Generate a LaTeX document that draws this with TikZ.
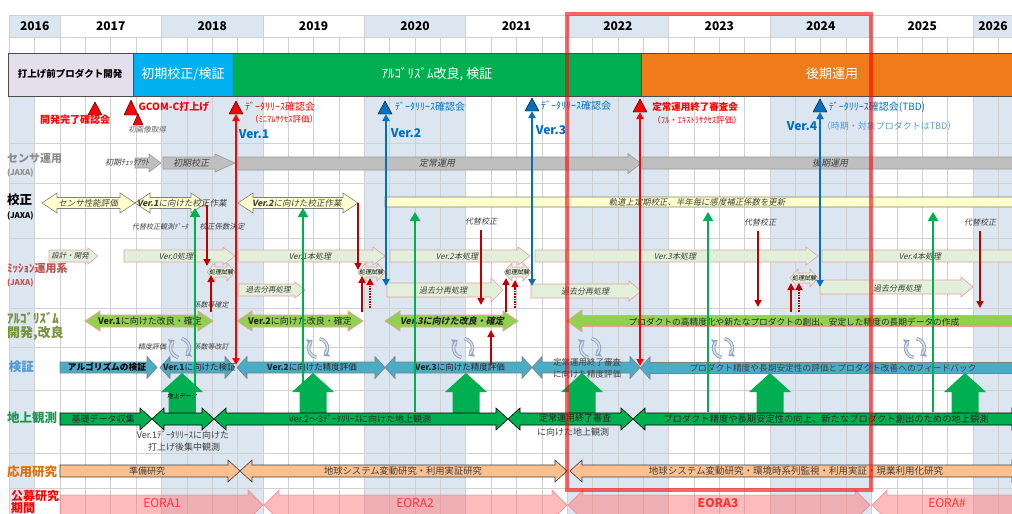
\documentclass[tikz,border=0pt]{standalone}
\usepackage{fontspec}
\setmainfont{Noto Sans CJK JP}
\newfontfamily\jpit[FakeSlant=0.2]{Noto Sans CJK JP}
\usetikzlibrary{arrows.meta}
\definecolor{shd}{HTML}{DCE6F1}
\definecolor{grd}{HTML}{D0D0D0}
\definecolor{lav}{HTML}{E4DFEC}
\definecolor{cph}{HTML}{00B0F0}
\definecolor{gph}{HTML}{00B050}
\definecolor{oph}{HTML}{F07B1B}
\definecolor{blu}{HTML}{0070C0}
\definecolor{lblu}{HTML}{5B9BD5}
\definecolor{dred}{HTML}{C00000}
\definecolor{gfill}{HTML}{BFBFBF}
\definecolor{gbord}{HTML}{9A9A9A}
\definecolor{yfill}{HTML}{FFFFCC}
\definecolor{mfill}{HTML}{E2EFDA}
\definecolor{mbord}{HTML}{E6A0A0}
\definecolor{afill}{HTML}{92D050}
\definecolor{vfill}{HTML}{4BACC6}
\definecolor{ofill}{HTML}{FAC090}
\definecolor{efill}{HTML}{FF7878}
\definecolor{etext}{HTML}{FF3333}
\definecolor{cyc}{HTML}{8FA4C0}
\definecolor{cycl}{HTML}{DCE4EE}
\definecolor{itx}{HTML}{404040}
\definecolor{labgray}{HTML}{8C8C8C}
\definecolor{labmis}{HTML}{C0504D}
\definecolor{labalg}{HTML}{77933C}
\definecolor{labver}{HTML}{4F97D0}
\definecolor{labgnd}{HTML}{1E9650}
\definecolor{labapp}{HTML}{E46C0A}
\newcommand\setfs[1]{\fontsize{#1}{#1}\selectfont}
% right arrow: style, x1, x2, y, h, H, L
\newcommand\myRA[7]{\path[#1] (#2,{#4-#5}) -- ({#3-#7},{#4-#5}) -- ({#3-#7},{#4-#6}) -- (#3,#4) -- ({#3-#7},{#4+#6}) -- ({#3-#7},{#4+#5}) -- (#2,{#4+#5}) -- cycle;}
% double arrow
\newcommand\myDA[7]{\path[#1] (#2,#4) -- ({#2+#7},{#4-#6}) -- ({#2+#7},{#4-#5}) -- ({#3-#7},{#4-#5}) -- ({#3-#7},{#4-#6}) -- (#3,#4) -- ({#3-#7},{#4+#6}) -- ({#3-#7},{#4+#5}) -- ({#2+#7},{#4+#5}) -- ({#2+#7},{#4+#6}) -- cycle;}
% left arrow
\newcommand\myLA[7]{\path[#1] (#2,#4) -- ({#2+#7},{#4-#6}) -- ({#2+#7},{#4-#5}) -- (#3,{#4-#5}) -- (#3,{#4+#5}) -- ({#2+#7},{#4+#5}) -- ({#2+#7},{#4+#6}) -- cycle;}
% up block arrow: x, tip y, base y
\newcommand\myUA[3]{\path[fill=gph] (#1,#2) -- ({#1+21},{#2+19}) -- ({#1+13.5},{#2+19}) -- ({#1+13.5},#3) -- ({#1-13.5},#3) -- ({#1-13.5},{#2+19}) -- ({#1-21},{#2+19}) -- cycle;}
\newcommand\mycyc[2]{%
  \draw[cycst] (#1,#2) ++(100:9.5) arc[start angle=100,end angle=235,radius=9.5];
  \draw[cycst] (#1,#2) ++(280:9.5) arc[start angle=280,end angle=415,radius=9.5];
  \draw[cycl,line width=1.4pt] (#1,#2) ++(102:9.5) arc[start angle=102,end angle=222,radius=9.5];
  \draw[cycl,line width=1.4pt] (#1,#2) ++(282:9.5) arc[start angle=282,end angle=402,radius=9.5];}
\begin{document}
\begin{tikzpicture}[x=1pt,y=-1pt,every node/.style={inner sep=0pt,outer sep=0pt},
  gar/.style={fill=gfill,draw=gbord,line width=0.6pt},
  yar/.style={fill=yfill,draw=black!50,line width=0.6pt},
  mar/.style={fill=mfill,draw=mbord,line width=0.6pt},
  aar/.style={fill=afill,draw=mbord,line width=0.7pt},
  var/.style={fill=vfill,draw=black!50,line width=0.6pt},
  gnd/.style={fill=gph,draw=black,line width=0.6pt},
  oar/.style={fill=ofill,draw=black!75,line width=0.6pt},
  ear/.style={fill=efill,fill opacity=0.5,draw=red!60,draw opacity=0.5,line width=0.8pt},
  it/.style={font={\jpit\setfs{8}},text=itx},
  sm/.style={font={\jpit\setfs{6}},text=black},
  lab/.style={anchor=west,font={\bfseries\setfs{12.5}}},
  sub/.style={anchor=west,font={\bfseries\setfs{8}}},
  yr/.style={font={\bfseries\setfs{12}}},
  qt/.style={font={\setfs{6.5}},text=black!80},
  tri/.style={draw=black,line width=0.4pt},
  vline/.style={line width=1.8pt,{Triangle[length=7pt,width=7pt]}-{Triangle[length=7pt,width=7pt]}},
  rdar/.style={dred,line width=1.6pt,-{Triangle[length=7pt,width=7pt]}},
  rdot/.style={dred,line width=1.6pt,densely dotted,-{Triangle[length=7pt,width=7pt]}},
  gline/.style={gph,line width=1.8pt,-{Triangle[length=9pt,width=10pt]}},
  cycst/.style={cyc,line width=3.4pt,-{Triangle[length=5pt,width=9pt]}}]
\useasboundingbox (0,0) rectangle (1012,514);
\clip (0,0) rectangle (1012,514);
\fill[white] (0,0) rectangle (1012,514);
% ---------- body shading ----------
\fill[shd] (9.3,96) rectangle (34.66,514);
\foreach \a/\b in {161.44/262.87,364.30/465.73,567.15/668.58,770.01/871.44,972.87/1023.58}
  \fill[shd] (\a,96) rectangle (\b,514);
% ---------- header ----------
\fill[shd] (9.3,15) rectangle (60.01,37);
\foreach \a/\b in {161.44/262.87,364.30/465.73,567.15/668.58,770.01/871.44,972.87/1023.58}
  \fill[shd] (\a,15) rectangle (\b,37);
\foreach \yy in {15,37,53} \draw[grd,line width=0.6pt] (9.3,\yy) -- (1012,\yy);
\foreach \a in {9.3,60.01,161.44,262.87,364.30,465.73,567.15,668.58,770.01,871.44,972.87}
  \draw[grd,line width=0.6pt] (\a,15) -- (\a,37);
\foreach \i in {0,...,40} \draw[grd,line width=0.6pt] ({9.3+25.357*\i},37) -- ++(0,16);
\node[yr] (y2016) at (34.7,26) {2016};
\node[yr] (y2017) at (110.7,26) {2017};
\node[yr] (y2018) at (212.2,26) {2018};
\node[yr] (y2019) at (313.6,26) {2019};
\node[yr] (y2020) at (415.0,26) {2020};
\node[yr] (y2021) at (516.4,26) {2021};
\node[yr] (y2022) at (617.9,26) {2022};
\node[yr] (y2023) at (719.3,26) {2023};
\node[yr] (y2024) at (820.7,26) {2024};
\node[yr] (y2025) at (922.2,26) {2025};
\node[yr] (y2026) at (993,26) {2026};
\foreach \i in {0,...,39}{\pgfmathtruncatemacro\m{mod(\i,4)}
  \node[qt] (q\i) at ({9.3+25.357*(\i+0.5)},45) {\ifcase\m 10-12\or 1-3\or 4-6\or 7-9\fi};}
% ---------- body grid ----------
\foreach \i in {0,...,40} \draw[grd,line width=0.5pt] ({9.3+25.357*\i},96) -- ({9.3+25.357*\i},514);
\foreach \yy in {143,183,238,308,347,390,453,488} \draw[grd,line width=0.5pt] (9.3,\yy) -- (1012,\yy);
% ---------- phase bar ----------
\path[draw=black!70,fill=lav] (8,53) rectangle (133,96);
\path[draw=black!70,fill=cph] (133,53) rectangle (233,96);
\path[draw=black!70,fill=gph] (233,53) rectangle (641,96);
\path[draw=black!70,fill=oph] (641,53) rectangle (1015,96);
\node[font={\bfseries\setfs{9.5}}] (ph1) at (70,74) {打上げ前プロダクト開発};
\node[font={\setfs{13}},text=white] (ph2) at (183,74) {初期校正/検証};
\node[font={\setfs{13}},text=white] (ph3) at (437,74) {ｱﾙｺﾞﾘｽﾞﾑ改良, 検証};
\node[font={\setfs{13}},text=white] (ph4) at (832,74) {後期運用};
% ---------- row labels ----------
\node[lab,text=labgray,font={\bfseries\setfs{11}}] (l1) at (7,158) {センサ運用};
\node[sub,text=labgray] (l1b) at (7,173) {(JAXA)};
\node[lab,text=black] (l2) at (7,200) {校正};
\node[sub,text=black] (l2b) at (7,216) {(JAXA)};
\node[lab,text=labmis,font={\bfseries\setfs{11}}] (l3) at (7,268) {ﾐｯｼｮﾝ運用系};
\node[sub,text=labmis] (l3b) at (7,283) {(JAXA)};
\node[lab,text=labalg,font={\bfseries\setfs{13}}] (l4) at (7,318) {ｱﾙｺﾞﾘｽﾞﾑ};
\node[lab,text=labalg,font={\bfseries\setfs{13}}] (l4b) at (7,333) {開発,改良};
\node[lab,text=labver] (l5) at (9,367) {検証};
\node[lab,text=labgnd] (l6) at (7,418) {地上観測};
\node[lab,text=labapp] (l7) at (7,472) {応用研究};
\node[lab,text=red,font={\bfseries\setfs{12}}] (l8) at (11,495.5) {公募研究};
\node[lab,text=red,font={\bfseries\setfs{12}}] (l8b) at (11,508.5) {期間};
% ---------- milestones ----------
\path[tri,fill=red] (88,115) -- (102,115) -- (95,102) -- cycle;
\node[font={\bfseries\setfs{10}},text=red] (ms1) at (75,120) {開発完了確認会};
\path[tri,fill=red] (124,115) -- (138,115) -- (131,100) -- cycle;
\path[tri,fill=red] (133,125) -- (143,125) -- (138,114) -- cycle;
\node[font={\bfseries\setfs{10}},text=red] (ms2) at (174,107) {GCOM-C打上げ};
\node[it,font={\jpit\setfs{7.5}},text=black!60] (ms2b) at (147,130) {初画像取得};
\path[tri,fill=red] (229,114) -- (243,114) -- (236,101) -- cycle;
\node[font={\setfs{10}},text=red] (ms3) at (280,107) {ﾃﾞｰﾀﾘﾘｰｽ確認会};
\node[font={\setfs{8.5}},text=red] (ms3b) at (284,119) {（ﾐﾆﾏﾑｻｸｾｽ評価）};
\node[font={\bfseries\setfs{12}},text=blu] (v1) at (254,134) {Ver.1};
\path[tri,fill=blu] (378,114) -- (392,114) -- (385,101) -- cycle;
\node[font={\setfs{10}},text=blu] (ms4) at (430,107) {ﾃﾞｰﾀﾘﾘｰｽ確認会};
\node[font={\bfseries\setfs{12}},text=blu] (v2) at (406,133) {Ver.2};
\path[tri,fill=blu] (525,111) -- (539,111) -- (532,98) -- cycle;
\node[font={\setfs{10}},text=blu] (ms5) at (576,106) {ﾃﾞｰﾀﾘﾘｰｽ確認会};
\node[font={\bfseries\setfs{12}},text=blu] (v3) at (551,130) {Ver.3};
\path[tri,fill=red] (633,112) -- (647,112) -- (640,99) -- cycle;
\node[font={\bfseries\setfs{9.5}},text=red] (ms6) at (695,107) {定常運用終了審査会};
\node[font={\setfs{8.5}},text=red] (ms6b) at (697,120) {（ﾌﾙ・ｴｷｽﾄﾗｻｸｾｽ評価）};
\path[tri,fill=blu] (813,112) -- (827,112) -- (820,99) -- cycle;
\node[font={\setfs{10}},text=blu] (ms7) at (877,107) {ﾃﾞｰﾀﾘﾘｰｽ確認会(TBD)};
\node[font={\bfseries\setfs{12}},text=blu] (v4) at (802,126) {Ver.4};
\node[font={\setfs{9}},text=lblu] (v4b) at (889,126) {（時期・対象プロダクトはTBD）};
% ---------- sensor operation ----------
\myRA{gar}{135}{161}{163}{5}{9}{12}
\node[it] (s1) at (127,162) {初期ﾁｪｯｸｱｳﾄ};
\myRA{gar}{163}{235}{163}{6}{9}{20}
\node[it,font={\jpit\setfs{9}}] (s2) at (191,163) {初期校正};
\myRA{gar}{238}{641}{163.5}{6.5}{10}{13}
\node[it,font={\jpit\setfs{9}}] (s3) at (437,163.5) {定常運用};
\myRA{gar}{642}{1040}{163}{6}{10}{13}
\node[it,font={\jpit\setfs{9}}] (s4) at (830,163) {後期運用};
% ---------- calibration ----------
\myDA{yar}{42}{135}{203}{5.5}{10}{15}
\node[it,font={\jpit\setfs{8.5}}] (c1) at (88,203) {センサ性能評価};
\myDA{yar}{135}{206}{203}{5.5}{10}{15}
\node[it,font={\jpit\setfs{8.5}},anchor=west] (c2) at (137,203) {{\bfseries Ver.1}に向けた校正作業};
\myDA{yar}{238}{358}{203}{5.5}{10}{15}
\node[it,font={\jpit\setfs{8.5}},anchor=west] (c3) at (252,203) {{\bfseries Ver.2}に向けた校正作業};
\myRA{yar}{385}{1030}{202}{5}{9}{12}
\node[it,font={\jpit\setfs{8.4}}] (c4) at (697,202) {軌道上定期校正、半年毎に感度補正係数を更新};
\node[it,font={\jpit\setfs{7}}] (c5) at (160,227) {代替校正観測ﾃﾞｰﾀ};
\node[it,font={\jpit\setfs{7.5}}] (c6) at (222,227) {校正係数決定};
\node[it,font={\jpit\setfs{8}}] (c7) at (481,221) {代替校正};
\node[it,font={\jpit\setfs{8}}] (c8) at (760,222) {代替校正};
\node[it,font={\jpit\setfs{8}}] (c9) at (980,222) {代替校正};
% ---------- mission operation ----------
\myRA{mar}{49}{98}{256}{6}{8}{10}
\node[it,font={\jpit\setfs{7.5}}] (m1) at (70,256) {設計・開発};
\myRA{mar}{124}{235}{256}{6}{9}{12}
\node[it] (m2) at (176,256) {Ver.0処理};
\myRA{mar}{238}{385}{256}{6}{9}{12}
\node[it] (m3) at (310,256) {Ver.1本処理};
\myRA{mar}{390}{530}{256}{6}{9}{12}
\node[it] (m4) at (457,256) {Ver.2本処理};
\myRA{mar}{535}{818}{256}{6}{9}{12}
\node[it] (m5) at (675,256) {Ver.3本処理};
\myRA{mar}{822}{1040}{256}{6}{9}{12}
\node[it] (m6) at (920,256) {Ver.4本処理};
\myDA{mar}{207}{235}{272}{5}{9}{8}
\node[sm] (p1) at (221,272) {処理試験};
\myDA{mar}{358}{385}{272}{5}{9}{8}
\node[sm] (p2) at (371,272) {処理試験};
\myDA{mar}{504}{531}{272}{5}{9}{8}
\node[sm] (p3) at (517,272) {処理試験};
\myDA{mar}{790}{818}{278}{5}{9}{8}
\node[sm] (p4) at (804,278) {処理試験};
\myRA{mar}{238}{305}{290}{6}{8}{10}
\node[it,font={\jpit\setfs{7.5}}] (r1) at (268,290) {過去分再処理};
\myRA{mar}{387}{503}{290}{7}{12}{12}
\node[it] (r2) at (443,290) {過去分再処理};
\myRA{mar}{531}{641}{291}{7}{10}{12}
\node[it] (r3) at (585,291) {過去分再処理};
\myRA{mar}{820}{973}{287}{7}{10}{12}
\node[it] (r4) at (897,288) {過去分再処理};
\node[it,font={\jpit\setfs{7}}] (m7) at (211,305) {係数等確定};
% ---------- algorithm ----------
\myDA{aar}{85}{213}{321}{6}{10}{15}
\node[font={\setfs{9}},text=black!85] (a1) at (150,321) {{\bfseries Ver.1}に向けた改良・確定};
\myDA{aar}{237}{363}{321}{6}{10}{15}
\node[font={\setfs{9}},text=black!85] (a2) at (300,321) {{\bfseries Ver.2}に向けた改良・確定};
\myDA{aar}{385}{518}{321}{6}{10}{15}
\node[font={\jpit\bfseries\setfs{9}},text=black!85] (a3) at (452,321) {Ver.3に向けた改良・確定};
\myDA{aar}{567}{1045}{321}{5.5}{11}{15}
\node[font={\setfs{8.7}},text=black!85] (a4) at (794,322) {プロダクトの高精度化や新たなプロダクトの創出、安定した精度の長期データの作成};
\node[it,font={\jpit\setfs{7}}] (a5) at (152,347) {精度評価};
\node[it,font={\jpit\setfs{7}}] (a6) at (211,347) {係数等改訂};
\mycyc{180}{348}
\mycyc{318}{348}
\mycyc{463}{348}
\mycyc{590}{348}
\mycyc{723}{348}
\mycyc{915}{348}
% ---------- verification ----------
\myRA{var}{60}{157}{367.5}{5.5}{11}{10}
\node[font={\bfseries\setfs{8.7}}] (k1) at (107,367.5) {アルゴリズムの検証};
\myDA{var}{160}{235}{367.5}{5.5}{11}{10}
\node[font={\setfs{8.5}},anchor=west,text=black!85] (k2) at (163,367.5) {{\bfseries Ver.1}に向けた検証};
\myDA{var}{237}{385}{367.5}{5.5}{11}{10}
\node[font={\setfs{8.5}},text=black!85] (k3) at (312,367.5) {{\bfseries Ver.2}に向けた精度評価};
\myDA{var}{385}{532}{367.5}{5.5}{11}{10}
\node[font={\setfs{8.5}},text=black!85] (k4) at (460,367.5) {{\bfseries Ver.3}に向けた精度評価};
\myDA{var}{532}{640}{367.5}{5.5}{11}{10}
\node[font={\setfs{8.5}},text=itx] (k5) at (587,362.5) {定常運用終了審査};
\node[font={\setfs{8.5}},text=itx] (k5b) at (587,374) {に向けた精度評価};
\myDA{var}{640}{1045}{368}{5.5}{11}{10}
\node[font={\setfs{8.7}},text=itx] (k6) at (833,368) {プロダクト精度や長期安定性の評価とプロダクト改善へのフィードバック};
% ---------- ground observation ----------
\myUA{182}{373}{414}
\myUA{313}{373}{414}
\myUA{466}{373}{414}
\myUA{582}{373}{414}
\myUA{770}{373}{414}
\myUA{965}{373}{414}
\node[sm] (gd) at (182,396) {地上データ};
\myRA{gnd}{60}{152}{419}{6}{11}{12}
\node[font={\setfs{9}},text=black!85] (g1) at (103,419) {基礎データ収集};
\myDA{gnd}{152}{214}{419}{6}{11}{12}
\myDA{gnd}{214}{508}{419}{6}{11}{12}
\node[font={\setfs{9}},text=black!85] (g2) at (360,419) {Ver.2～3ﾃﾞｰﾀﾘﾘｰｽに向けた地上観測};
\myDA{gnd}{508}{633}{419}{6}{11}{12}
\node[font={\setfs{9}},text=black!85] (g3) at (575,418) {定常運用終了審査};
\myDA{gnd}{633}{1024}{419}{6}{11}{12}
\node[font={\setfs{9.3}},text=black!85] (g4) at (826,419) {プロダクト精度や長期安定性の向上、新たなプロダクト創出のための地上観測};
\node[font={\setfs{9}},text=itx] (g5) at (183,435) {Ver.1ﾃﾞｰﾀﾘﾘｰｽに向けた};
\node[font={\setfs{9}},text=itx] (g6) at (184,447) {打上げ後集中観測};
\node[font={\setfs{9}},text=itx] (g7) at (573,432) {に向けた地上観測};
% ---------- applied research ----------
\myRA{oar}{60}{240}{471}{6}{11}{12}
\node[font={\setfs{9}},text=itx] (o1) at (147,471) {準備研究};
\myDA{oar}{240}{567}{471}{6}{11}{12}
\node[font={\setfs{9.3}},text=itx] (o2) at (403,471) {地球システム変動研究・利用実証研究};
\myDA{oar}{570}{1024}{471}{6}{11}{12}
\node[font={\setfs{9.5}},text=itx] (o3) at (796,471) {地球システム変動研究・環境時系列監視・利用実証・現業利用化研究};
% ---------- EORA ----------
\myRA{ear}{60}{263}{505}{10}{15}{15}
\node[font={\setfs{12}},text=etext] (e1) at (162,503) {EORA1};
\myDA{ear}{264}{567}{505}{10}{15}{15}
\node[font={\setfs{12}},text=etext] (e2) at (415,503) {EORA2};
\myDA{ear}{568}{870}{505}{10}{15}{15}
\node[font={\bfseries\setfs{12}},text=etext] (e3) at (718,503) {EORA3};
\myLA{ear}{872}{1020}{505}{10}{15}{15}
\node[font={\setfs{12}},text=etext] (e4) at (947,503) {EORA\#};
% ---------- thin arrows ----------
\foreach \xx/\tt in {195/208,303/208,415/212,708/212,933/212}
  \draw[gline] (\xx,412) -- (\xx,\tt);
\draw[rdar] (207,205) -- (207,266);
\draw[rdar] (211,312) -- (211,275);
\draw[rdar] (358,203) -- (358,270);
\draw[rdar] (362,312) -- (362,276);
\draw[rdot] (370,308) -- (370,278);
\draw[rdar] (481,230) -- (481,305);
\draw[rdar] (506,312) -- (506,278);
\draw[rdot] (515,308) -- (515,280);
\draw[rdar] (491,365) -- (491,330);
\draw[rdar] (758,231) -- (758,307);
\draw[rdar] (791,312) -- (791,283);
\draw[rdot] (799,312) -- (799,283);
\draw[rdar] (980,231) -- (980,308);
% ---------- milestone verticals ----------
\coordinate (t3) at (236,114); \coordinate (b3) at (236,365);
\coordinate (t4) at (386,114); \coordinate (b4) at (386,286);
\coordinate (t5) at (532,111); \coordinate (b5) at (532,286);
\coordinate (t6) at (640,112); \coordinate (b6) at (640,366);
\coordinate (t7) at (820,112); \coordinate (b7) at (820,287);
\draw[vline,red] (t3) -- (b3);
\draw[vline,blu] (t4) -- (b4);
\draw[vline,blu] (t5) -- (b5);
\draw[vline,red] (t6) -- (b6);
\draw[vline,blu] (t7) -- (b7);
% ---------- highlight ----------
\draw[red,opacity=0.6,line width=4pt] (567,14) rectangle (871,490);
\end{tikzpicture}
\end{document}
